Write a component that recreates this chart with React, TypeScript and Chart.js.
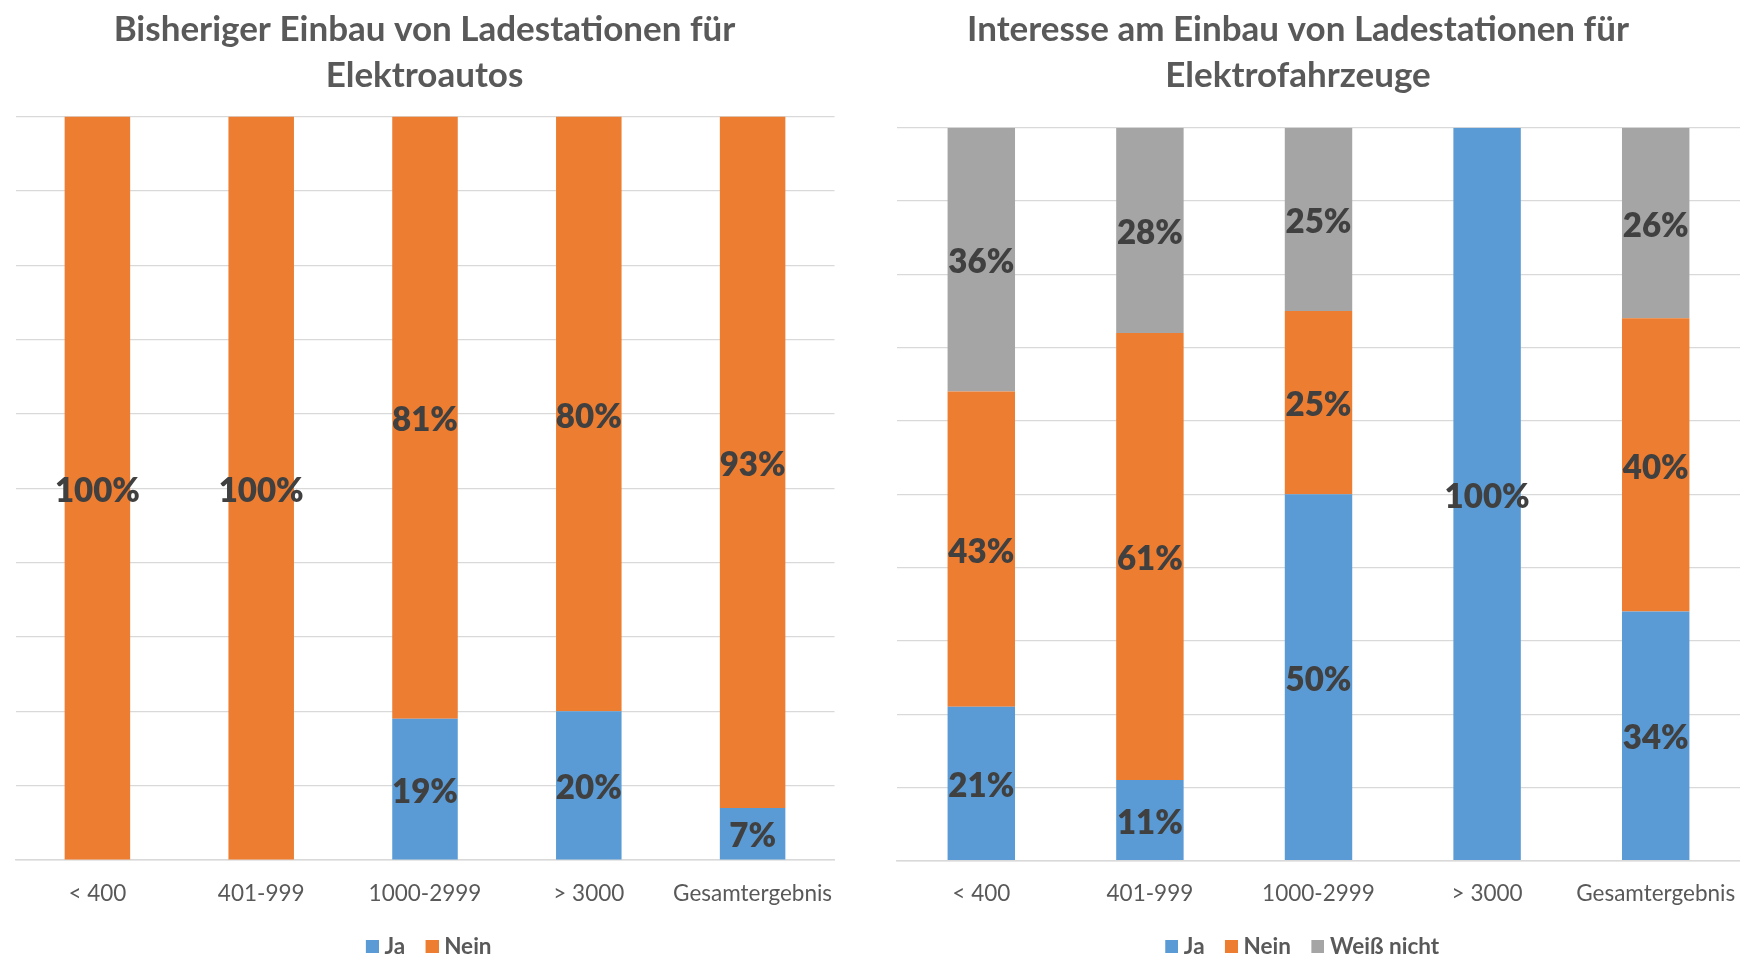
import React, { useEffect, useRef } from "react";
import { Chart, registerables } from "chart.js";

Chart.register(...registerables);

const categories = ["< 400", "401-999", "1000-2999", "> 3000", "Gesamtergebnis"];

const leftTitle = ["Bisheriger Einbau von Ladestationen für", "Elektroautos"];
const leftJa = [0, 0, 19, 20, 7];
const leftNein = [100, 100, 81, 80, 93];

const rightTitle = ["Interesse am Einbau von Ladestationen für", "Elektrofahrzeuge"];
const rightJa = [21, 11, 50, 100, 34];
const rightNein = [43, 61, 25, 0, 40];
const rightWeissNicht = [36, 28, 25, 0, 26];

const BLUE = "#5B9BD5";
const ORANGE = "#ED7D31";
const GRAY = "#A5A5A5";
const TEXT = "#595959";
const LABEL = "#404040";
const GRID = "#D9D9D9";
const FONT = "Lato, 'Open Sans', sans-serif";

const SWATCH = 13;
const SWATCH_CANVAS_W = 27;

function makeSwatch(color: string) {
  const c = document.createElement("canvas");
  c.width = SWATCH_CANVAS_W;
  c.height = SWATCH;
  const g = c.getContext("2d");
  if (g) {
    g.fillStyle = color;
    g.fillRect(SWATCH_CANVAS_W - SWATCH, 0, SWATCH, SWATCH);
  }
  return c;
}

const segmentLabels = {
  id: "segmentLabels",
  afterDatasetsDraw(chart: any) {
    const ctx = chart.ctx;
    ctx.save();
    ctx.font = `800 33px ${FONT}`;
    ctx.fillStyle = LABEL;
    ctx.textAlign = "center";
    ctx.textBaseline = "middle";
    chart.data.datasets.forEach((ds: any, di: number) => {
      const meta = chart.getDatasetMeta(di);
      meta.data.forEach((bar: any, i: number) => {
        const v = ds.data[i];
        if (!v) return;
        const p = bar.getProps(["x", "y", "base"], true);
        ctx.fillText(`${v}%`, p.x, (p.y + p.base) / 2 + 3);
      });
    });
    ctx.restore();
  },
};

type Cfg = {
  title: string[];
  datasets: { label: string; data: number[]; color: string }[];
  yAxisWidth: number;
  rightGap: number;
  titleBottom: number;
  xAxisHeight: number;
};

function StackedChart({ cfg, width, left }: { cfg: Cfg; width: number; left: number }) {
  const ref = useRef<HTMLCanvasElement | null>(null);
  useEffect(() => {
    if (!ref.current) return;
    const scales: any = {
      x: {
        stacked: true,
        grid: { display: false, drawTicks: false },
        border: { display: true, color: GRID, width: 1.5 },
        ticks: {
          color: TEXT,
          font: { family: FONT, size: 22.5 },
          padding: 20,
          maxRotation: 0,
          autoSkip: false,
        },
        afterFit: (s: any) => {
          s.height = cfg.xAxisHeight;
          s.paddingLeft = 0;
          s.paddingRight = 0;
        },
      },
      y: {
        stacked: true,
        min: 0,
        max: 100,
        ticks: { display: false, stepSize: 10 },
        grid: { color: GRID, lineWidth: 1.2, drawTicks: false },
        border: { display: false },
        afterFit: (s: any) => {
          s.width = cfg.yAxisWidth;
        },
      },
    };
    if (cfg.rightGap > 0) {
      scales.gapRight = {
        type: "linear",
        position: "right",
        min: 0,
        max: 100,
        ticks: { display: false },
        grid: { display: false, drawTicks: false },
        border: { display: false },
        afterFit: (s: any) => {
          s.width = cfg.rightGap;
        },
      };
    }
    const baseGenerate = (Chart.defaults as any).plugins.legend.labels.generateLabels;
    const chart = new Chart(ref.current, {
      type: "bar",
      data: {
        labels: categories,
        datasets: cfg.datasets.map((d) => ({
          label: d.label,
          data: d.data,
          backgroundColor: d.color,
          borderWidth: 0,
          barPercentage: 0.4,
          categoryPercentage: 1,
        })),
      },
      options: {
        animation: false,
        responsive: false,
        maintainAspectRatio: false,
        layout: { padding: 0 },
        plugins: {
          title: {
            display: true,
            text: cfg.title,
            color: TEXT,
            font: { family: FONT, size: 35, weight: "bold", lineHeight: 46 / 35 },
            padding: { top: 7, bottom: cfg.titleBottom },
          },
          legend: {
            position: "bottom",
            maxHeight: 32,
            labels: {
              usePointStyle: true,
              boxWidth: 15.75,
              boxHeight: SWATCH,
              padding: 12,
              color: TEXT,
              font: { family: FONT, size: 22.5, weight: "bold" },
              generateLabels: (ch: any) => {
                const items = baseGenerate(ch);
                items.forEach((it: any) => {
                  it.pointStyle = makeSwatch(it.fillStyle);
                  it.lineWidth = 0;
                });
                return items;
              },
            },
          },
          tooltip: { enabled: false },
        },
        scales,
      } as any,
      plugins: [segmentLabels],
    });
    return () => chart.destroy();
  }, [cfg]);
  return (
    <canvas
      ref={ref}
      width={width}
      height={955}
      style={{ position: "absolute", left, top: 0, width, height: 955 }}
    />
  );
}

const leftCfg: Cfg = {
  title: leftTitle,
  datasets: [
    { label: "Ja", data: leftJa, color: BLUE },
    { label: "Nein", data: leftNein, color: ORANGE },
  ],
  yAxisWidth: 15.5,
  rightGap: 14.5,
  titleBottom: 17.5,
  xAxisHeight: 63,
};

const rightCfg: Cfg = {
  title: rightTitle,
  datasets: [
    { label: "Ja", data: rightJa, color: BLUE },
    { label: "Nein", data: rightNein, color: ORANGE },
    { label: "Weiß nicht", data: rightWeissNicht, color: GRAY },
  ],
  yAxisWidth: 41,
  rightGap: 0,
  titleBottom: 28.7,
  xAxisHeight: 62.3,
};

export default function App() {
  useEffect(() => {
    document.body.style.margin = "0";
  }, []);
  return (
    <div
      style={{
        position: "fixed",
        left: 0,
        top: 0,
        width: 1740,
        height: 955,
        overflow: "hidden",
        background: "#ffffff",
      }}
    >
      <StackedChart cfg={leftCfg} width={849} left={0} />
      <StackedChart cfg={rightCfg} width={884} left={856} />
    </div>
  );
}
